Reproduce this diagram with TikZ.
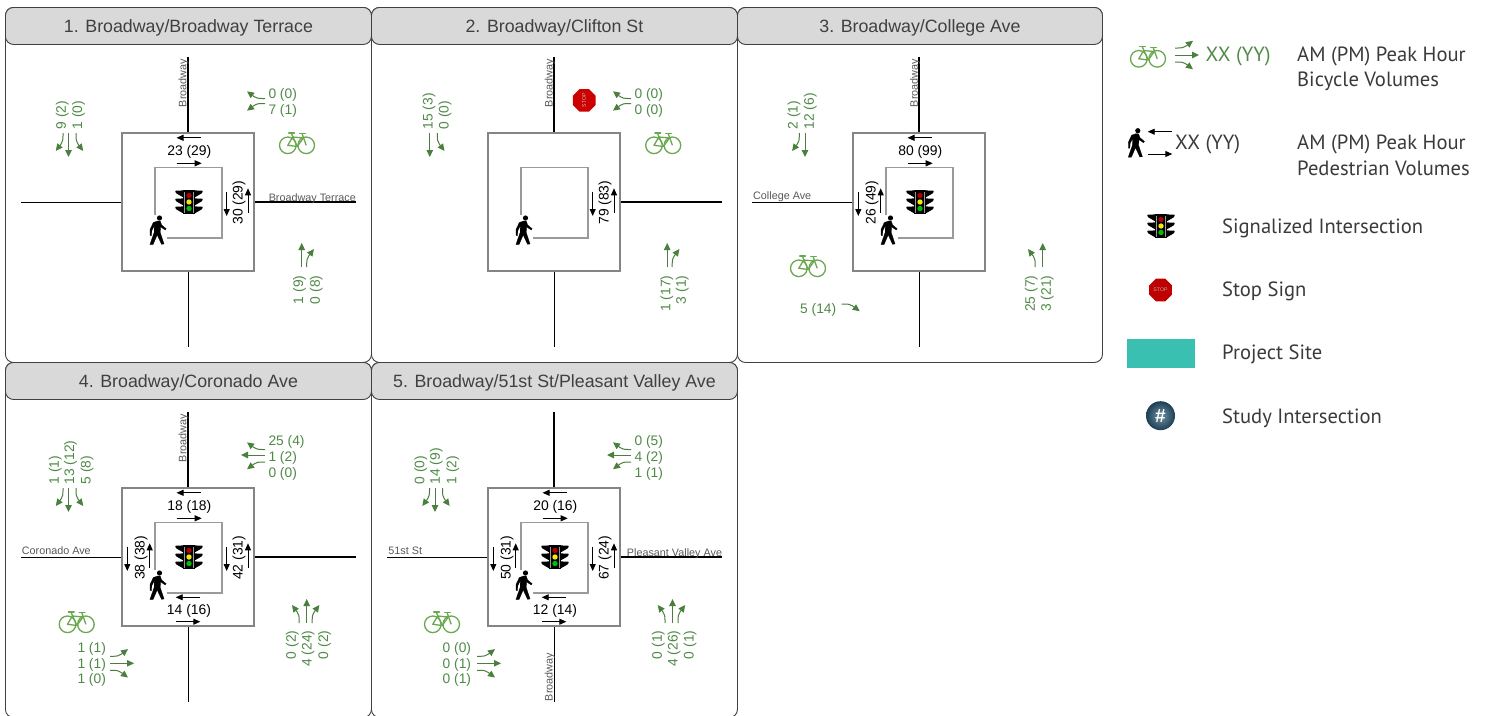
\documentclass[tikz,border=0pt]{standalone}
\usepackage{fontspec}
\setmainfont{Liberation Sans}
\newfontfamily\lgd{PT Sans}
\usetikzlibrary{arrows.meta}
\definecolor{gline}{HTML}{4A7F3F}
\definecolor{gtext}{HTML}{4F8A47}
\definecolor{bikeg}{HTML}{6AA84F}
\definecolor{ink}{HTML}{404040}
\definecolor{sgray}{HTML}{595959}
\definecolor{boxg}{HTML}{858585}
\definecolor{crossg}{HTML}{9A9A9A}
\definecolor{lgdtxt}{HTML}{3A3A3C}
\newcount\mylabn
\newcommand{\nextlab}{\global\advance\mylabn by 1 }
\tikzset{
  x=1pt,y=-1pt,
  panelbox/.style={draw=ink,line width=0.9pt,fill=white,rounded corners=8pt,minimum width=366pt,minimum height=355pt,inner sep=0pt},
  headbox/.style={draw=ink,line width=0.9pt,fill=black!15,rounded corners=8pt,minimum width=366pt,minimum height=37pt,inner sep=0pt,text=ink,text height=13pt,text depth=0pt,font=\fontsize{17.8}{20}\selectfont},
  outerbox/.style={draw=boxg,line width=1.8pt,minimum width=132pt,minimum height=138pt,inner sep=0pt},
  crossing/.style={draw=crossg,line width=1.6pt},
  roadthick/.style={draw=black,line width=2pt},
  roadthin/.style={draw=black,line width=1pt},
  ga/.style={draw=gline,line width=1pt,-{Triangle[length=7pt,width=6.5pt]}},
  pa/.style={draw=black,line width=0.9pt,-{Triangle[length=7pt,width=6pt]}},
  gl/.style={text=gtext,inner sep=0pt,text height=9.8pt,text depth=0pt,font=\fontsize{13.8}{15}\selectfont},
  bl/.style={text=black,inner sep=0pt,text height=9.8pt,text depth=0pt,font=\fontsize{13.9}{15}\selectfont},
  sl/.style={text=sgray,inner sep=0pt,text height=7.5pt,text depth=0pt,font=\fontsize{10.8}{12}\selectfont},
  ll/.style={text=lgdtxt,inner sep=0pt,anchor=west,text height=14pt,text depth=0pt,font=\lgd\fontsize{20.6}{22}\selectfont},
  bikeline/.style={draw=bikeg,line width=1.3pt},
}
% arrow arms (local frame: arm points down, rotated per approach)
\newcommand{\armT}{\draw[ga] (0,0) -- (0,24);}
\newcommand{\armR}[1]{\draw[ga] (-#1,0) -- (-#1,3) .. controls (-#1,7) and (-#1-0.6,9) .. (-#1-2,11) -- (-#1-7.2,18);}
\newcommand{\armL}[1]{\draw[ga] (#1,0) -- (#1,3) .. controls (#1,7) and (#1+0.6,9) .. (#1+2,11) -- (#1+7.2,18);}
\newenvironment{arm}[3]{\begin{scope}[shift={(#1,#2)},rotate=#3]}{\end{scope}}
% labels
\newcommand{\gsb}[2]{\nextlab\node[gl,rotate=90,anchor=west] (lab\the\mylabn) at (#1,129.5) {#2};}
\newcommand{\gnb}[2]{\nextlab\node[gl,rotate=90,anchor=east] (lab\the\mylabn) at (#1,275.5) {#2};}
\newcommand{\gwb}[2]{\nextlab\node[gl,anchor=west] (lab\the\mylabn) at (268.3,#1) {#2};}
\newcommand{\geb}[3]{\nextlab\node[gl,anchor=west] (lab\the\mylabn) at (#1,#2) {#3};}
\newcommand{\street}[4]{\nextlab\node[sl,rotate=#3] (lab\the\mylabn) at (#1,#2) {#4};}
% pedestrian crossings
\newcommand{\pednorth}[1]{\nextlab
  \draw[pa] (200.7,137.8) -- (176.5,137.8);
  \node[bl] (lab\the\mylabn) at (189.3,150.7) {#1};
  \draw[pa] (176.7,163.3) -- (201.7,163.3);}
\newcommand{\pedsouth}[1]{\nextlab
  \draw[pa] (200,242.3) -- (175.7,242.3);
  \node[bl] (lab\the\mylabn) at (189,254.3) {#1};
  \draw[pa] (176,266.7) -- (200.3,266.7);}
\newcommand{\pedeast}[1]{\nextlab
  \draw[pa] (226.7,191.7) -- (226.7,216);
  \node[bl,rotate=90] (lab\the\mylabn) at (237.7,202.7) {#1};
  \draw[pa] (248,212.7) -- (248,188.3);}
\newcommand{\pedwest}[1]{\nextlab
  \draw[pa] (127.3,191.7) -- (127.3,216);
  \node[bl,rotate=90] (lab\the\mylabn) at (139.7,202.7) {#1};
  \draw[pa] (149.7,212.7) -- (149.7,188.3);}
% icons
\newcommand{\walker}[2]{\begin{scope}[shift={(#1,#2)}]
  \fill[black] (2.8,-12) circle (2.6);
  \filldraw[black,line width=0.2pt,line join=round] (0.8,-9) -- (3.6,-8.8) -- (5,-5) -- (9.5,-1.3) -- (8.5,0) -- (4,-3) -- (3.6,2.5) -- (7.4,14) -- (4.8,14.3) -- (0.5,5) -- (-3.6,14.5) -- (-6.8,14.5) -- (-2.6,2.5) -- (-2.4,-4) -- (-4.8,0.5) -- (-5.2,5.5) -- (-6.6,5.5) -- (-6.7,-0.5) -- (-3.4,-7.5) -- cycle;
\end{scope}}
\newcommand{\bike}[2]{\begin{scope}[shift={(#1,#2)}]
  \draw[bikeline] (-9.2,3.3) circle (8.3);
  \draw[bikeline] (9.2,3.3) circle (8.3);
  \draw[bikeline,line join=round] (-9.2,3.3) -- (-4.4,-5) -- (6.3,-4) -- (0.2,4.5) -- cycle;
  \draw[bikeline] (-5.6,-8.5) -- (0.2,4.5);
  \draw[bikeline] (5.2,-8) -- (9.2,3.3);
  \draw[bikeline,line cap=round] (-8.3,-9) -- (-2.6,-9);
  \draw[bikeline,line cap=round] (2.6,-8.2) -- (8.2,-8.2);
\end{scope}}
\newcommand{\signal}[2]{\begin{scope}[shift={(#1,#2)}]
  \foreach \yy in {-8,0,8}{
    \fill[black,rounded corners=0.8pt] (-5,\yy-3.6) -- (-14,\yy-3.3) -- (-13,\yy-0.8) -- (-5,\yy+3.8) -- cycle;
    \fill[black,rounded corners=0.8pt] (5,\yy-3.6) -- (14,\yy-3.3) -- (13,\yy-0.8) -- (5,\yy+3.8) -- cycle;}
  \fill[black] (-6.3,-12) rectangle (6.3,12);
  \fill[black!40] (-4.6,-10.5) rectangle (4.6,11);
  \fill[black] (-3.6,-10.5) rectangle (3.6,11);
  \fill[red!70!black] (0,-6.5) circle (2.7);
  \fill[yellow!95!black] (0,0) circle (2.7);
  \fill[green!75!black] (0,6.5) circle (2.7);
\end{scope}}
\newcommand{\stopsign}[5]{
  \fill[#3] (#1,#2) ++(-4.7,-11.3) -- ++(9.4,0) -- ++(6.6,6.6) -- ++(0,9.4) -- ++(-6.6,6.6) -- ++(-9.4,0) -- ++(-6.6,-6.6) -- ++(0,-9.4) -- cycle;
  \nextlab
  \node[text=white!90!#3,inner sep=0pt,rotate=#4,font=\fontsize{#5}{7}\selectfont] (lab\the\mylabn) at (#1,#2) {STOP};}
% the junction frame, shared by all panels
\newcommand{\junction}{
  \node[outerbox] (outer) at (188,202) {};
  \draw[crossing] (155,215) -- (155,167.3) -- (222,167.3) -- (222,238) -- (167,238);
  \walker{156.7}{230}
}
\newcommand{\roadN}{\coordinate (nend) at (188,57); \draw[roadthick] (outer.north) -- (nend);}
\newcommand{\roadS}{\coordinate (send) at (188,347); \draw[roadthin] (outer.south) -- (send);}
\newcommand{\roadW}{\coordinate (wend) at (21,202); \draw[roadthin] (outer.west) -- (wend);}
\newcommand{\roadE}{\coordinate (eend) at (356,202); \draw[roadthick] (outer.east) -- (eend);}
\begin{document}
\begin{tikzpicture}
\useasboundingbox (0,0) rectangle (1488,715);
\clip (0,0) rectangle (1488,715);
% panels
\node[panelbox,minimum width=366pt,anchor=north west] (p1box) at (5,7) {};
\node[panelbox,minimum width=366pt,anchor=north west] (p2box) at (371,7) {};
\node[panelbox,minimum width=365pt,anchor=north west] (p3box) at (737,7) {};
\node[panelbox,anchor=north west] (p4box) at (5,362) {};
\node[panelbox,anchor=north west] (p5box) at (371,362) {};
\node[headbox,anchor=north west] (p1head) at (5,7) {1. Broadway/Broadway Terrace};
\node[headbox,anchor=north west] (p2head) at (371,7) {2. Broadway/Clifton St};
\node[headbox,minimum width=365pt,anchor=north west] (p3head) at (737,7) {3. Broadway/College Ave};
\node[headbox,anchor=north west] (p4head) at (5,362) {4. Broadway/Coronado Ave};
\node[headbox,anchor=north west] (p5head) at (371,362) {5. Broadway/51st St/Pleasant Valley Ave};
% ---------- panel 1
\begin{scope}[name prefix=p1-]
\junction \roadN\roadS\roadW\roadE
\signal{189}{202}
\bike{297}{142}
\street{182.7}{83}{90}{Broadway}
\street{312.3}{197.5}{0}{Broadway Terrace}
\pednorth{23 (29)} \pedeast{30 (29)}
\begin{arm}{68.5}{133}{0}\armT\armR{5.5}\armL{7.5}\end{arm}
\gsb{61}{9 (2)} \gsb{77.3}{1 (0)}
\begin{arm}{301.7}{267}{180}\armT\armR{5}\end{arm}
\gnb{298.3}{1 (9)} \gnb{315}{0 (8)}
\begin{arm}{265}{101}{270}\armR{2.5}\armL{2.5}\end{arm}
\gwb{93.7}{0 (0)} \gwb{109.3}{7 (1)}
\end{scope}
% ---------- panel 2
\begin{scope}[shift={(366,0)},name prefix=p2-]
\junction \roadN\roadS\roadE
\bike{297.2}{142}
\street{182.8}{83}{90}{Broadway}
\stopsign{218.2}{100.3}{red!80!black}{90}{5.2}
\pedeast{79 (83)}
\begin{arm}{63.8}{133}{0}\armT\armL{7.5}\end{arm}
\gsb{61.8}{15 (3)} \gsb{77.8}{0 (0)}
\begin{arm}{301.2}{267}{180}\armT\armR{5}\end{arm}
\gnb{299.5}{1 (17)} \gnb{315}{3 (1)}
\begin{arm}{265}{101}{270}\armR{2.5}\armL{2.5}\end{arm}
\gwb{93.7}{0 (0)} \gwb{109.3}{0 (0)}
\end{scope}
% ---------- panel 3
\begin{scope}[shift={(731,0)},name prefix=p3-]
\junction \roadN\roadS\roadW
\signal{189}{202}
\bike{77}{265}
\street{183}{83}{90}{Broadway}
\street{51.2}{195.3}{0}{College Ave}
\pednorth{80 (99)} \pedwest{26 (49)}
\begin{arm}{74}{133}{0}\armT\armR{5.7}\end{arm}
\gsb{61.7}{2 (1)} \gsb{78}{12 (6)}
\begin{arm}{311.7}{267}{180}\armT\armL{7.5}\end{arm}
\gnb{299}{25 (7)} \gnb{315}{3 (21)}
\begin{arm}{110.7}{299}{90}\armR{5}\end{arm}
\geb{69}{308.3}{5 (14)}
\end{scope}
% ---------- panel 4
\begin{scope}[shift={(0,355)},name prefix=p4-]
\junction \roadN\roadS\roadW\roadE
\signal{189}{202}
\bike{76.7}{266}
\street{182.7}{83}{90}{Broadway}
\street{56.3}{195.3}{0}{Coronado Ave}
\pednorth{18 (18)} \pedsouth{14 (16)} \pedeast{42 (31)} \pedwest{38 (38)}
\begin{arm}{68.5}{133}{0}\armT\armR{5.5}\armL{7.5}\end{arm}
\gsb{54}{1 (1)} \gsb{69.3}{13 (12)} \gsb{85.7}{5 (8)}
\begin{arm}{306.7}{268}{180}\armT\armR{5.5}\armL{7.5}\end{arm}
\gnb{291}{0 (2)} \gnb{306.7}{4 (24)} \gnb{323.3}{0 (2)}
\begin{arm}{265}{100}{270}\armT\armR{5.5}\armL{7}\end{arm}
\gwb{85.3}{25 (4)} \gwb{101.7}{1 (2)} \gwb{117.3}{0 (0)}
\begin{arm}{110}{308.3}{90}\armT\armR{7}\armL{7}\end{arm}
\geb{77.3}{292.7}{1 (1)} \geb{77.3}{308.3}{1 (1)} \geb{77.3}{324}{1 (0)}
\end{scope}
% ---------- panel 5
\begin{scope}[shift={(366,355)},name prefix=p5-]
\junction \roadN\roadS\roadW\roadE
\signal{189}{202}
\bike{76}{266}
\street{182.8}{322}{90}{Broadway}
\street{39.2}{195.3}{0}{51st St}
\street{308.5}{197.3}{0}{Pleasant Valley Ave}
\pednorth{20 (16)} \pedsouth{12 (14)} \pedeast{67 (24)} \pedwest{50 (31)}
\begin{arm}{69}{133}{0}\armT\armR{5.5}\armL{7.5}\end{arm}
\gsb{53.5}{0 (0)} \gsb{69}{14 (9)} \gsb{85.5}{1 (2)}
\begin{arm}{306.5}{268}{180}\armT\armR{5.5}\armL{7.5}\end{arm}
\gnb{291}{0 (1)} \gnb{306.8}{4 (26)} \gnb{322.8}{0 (1)}
\begin{arm}{265}{100}{270}\armT\armR{5.5}\armL{7}\end{arm}
\gwb{85.3}{0 (5)} \gwb{101.7}{4 (2)} \gwb{117.3}{1 (1)}
\begin{arm}{111}{308.3}{90}\armT\armR{7}\armL{7}\end{arm}
\geb{76.5}{292.7}{0 (0)} \geb{76.5}{308.3}{0 (1)} \geb{76.5}{324}{0 (1)}
\end{scope}
% ---------- legend
\bike{1148}{55.5}
\begin{arm}{1175}{55}{90}\armT\armR{7}\armL{7}\end{arm}
\node[ll,text=gtext] (lg1a) at (1205.5,54) {XX (YY)};
\node[ll] (lg1b) at (1297,54) {AM (PM) Peak Hour};
\node[ll] (lg1c) at (1297,79) {Bicycle Volumes};
\walker{1135}{142.7}
\coordinate (pa1s) at (1171.7,131.7); \coordinate (pa1e) at (1147.7,131.7);
\coordinate (pa2s) at (1148.3,154); \coordinate (pa2e) at (1172.3,154);
\draw[pa] (pa1s) -- (pa1e);
\draw[pa] (pa2s) -- (pa2e);
\node[ll] (lg2a) at (1175,142) {XX (YY)};
\node[ll] (lg2b) at (1297,142) {AM (PM) Peak Hour};
\node[ll] (lg2c) at (1297,168) {Pedestrian Volumes};
\signal{1161}{226}
\node[ll] (lg3) at (1222,226) {Signalized Intersection};
\stopsign{1160.5}{290}{red!75!black}{0}{5.2}
\node[ll] (lg4) at (1222,289) {Stop Sign};
\node[fill={rgb,255:red,58;green,192;blue,176},inner sep=0pt,minimum width=68pt,minimum height=29pt] (lg5box) at (1161,353.5) {};
\node[ll] (lg5) at (1222,352) {Project Site};
\node[circle,inner sep=0pt,minimum size=29pt,inner color={rgb,255:red,112;green,146;blue,165},outer color={rgb,255:red,30;green,62;blue,84},text=white,font=\fontsize{19}{20}\bfseries\selectfont] (lg6box) at (1160.5,415.7) {\#};
\node[ll] (lg6) at (1222,416) {Study Intersection};
\end{tikzpicture}
\end{document}
